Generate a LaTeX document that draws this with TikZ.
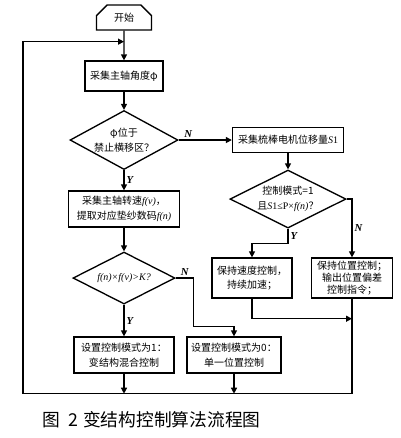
\documentclass[tikz,border=0pt]{standalone}
\usepackage{amsmath}
\usepackage{fontspec}
\setmainfont{Liberation Serif}
\newfontfamily\cjk{Noto Sans CJK SC}
\newcommand{\itv}[1]{{\rmfamily\itshape #1}}
\usepackage{tikz}
\usetikzlibrary{positioning,shapes.geometric,shapes.misc,arrows.meta}

\begin{document}
\begin{tikzpicture}[on grid,line width=1pt,
    >={Triangle[length=4.5pt,width=4.5pt]},
    every node/.style={font=\cjk\fontsize{7.5}{11}\selectfont},
    box/.style={draw,rectangle,align=center,inner sep=1pt},
    test/.style={draw,diamond,align=center,inner sep=0pt,shape aspect=2},
    yn/.style={font=\rmfamily\bfseries\itshape\fontsize{8}{9}\selectfont,inner sep=1.5pt}]
    \useasboundingbox (-93pt,13.125pt) rectangle (207pt,-315.375pt);
    \node[draw,chamfered rectangle,chamfered rectangle xsep=4.5pt,chamfered rectangle ysep=4.5pt,
          chamfered rectangle corners={north west,north east},
          minimum width=41.25pt,minimum height=18.75pt,inner sep=0pt] (start) at (0,0) {开始};
    \node[box,minimum width=58.5pt,minimum height=22.5pt] (b_phi)   [below=43.9pt of start]  {采集主轴角度φ};
    \node[test,minimum width=78pt,minimum height=44.25pt] (t_zone)  [below=48pt of b_phi]    {φ位于\\禁止横移区？};
    \node[box,minimum width=83.25pt,minimum height=18.75pt] (b_s1)  [right=123pt of t_zone]  {采集梳棒电机位移量\itv{S}\rmfamily 1};
    \node[test,minimum width=87pt,minimum height=43.5pt] (t_mode)   [below=44.25pt of b_s1]  {控制模式=1\\且\itv{S}{\rmfamily 1≤P×}\itv{f(n)}？};
    \node[box,minimum width=83.25pt,minimum height=27pt] (b_fv)     [below=51.75pt of t_zone] {采集主轴转速\itv{f(v)}，\\提取对应垫纱数码\itv{f(n)}};
    \node[test,minimum width=76.5pt,minimum height=39pt] (t_k)      [below=51.75pt of b_fv]  {\itv{f(n)×f(v)>K?}};
    \node[box,minimum width=60pt,minimum height=30pt] (b_speed)     [right=96pt of t_k]      {保持速度控制，\\持续加速；};
    \node[box,minimum width=60.75pt,minimum height=30pt,font=\cjk\fontsize{7.5}{9.3}\selectfont]
         (b_pos) [right=75pt of b_speed] {保持位置控制；\\输出位置偏差\\控制指令；};
    \node[box,minimum width=75pt,minimum height=27pt] (b_mode1)     [below=57.75pt of t_k]   {设置控制模式为1：\\变结构混合控制};
    \node[box,minimum width=70.5pt,minimum height=27pt] (b_mode0)   [right=82.5pt of b_mode1] {设置控制模式为0：\\单一位置控制};
    \node[font=\cjk\fontsize{13.3}{15}\selectfont] (caption) at (20.6pt,-301.9pt)
         {图\hspace{0.45em}2\hspace{0.3em}变结构控制算法流程图};

    % return line
    \coordinate (back) at ([yshift=-8.25pt]start.south);
    \coordinate (bl)   at ([xshift=-75.75pt,yshift=-15pt]b_mode1.south);
    \coordinate (y2)   at ([yshift=-11.25pt]t_mode.south);
    \coordinate (m3)   at ([yshift=-15pt]b_speed.south);
    \coordinate (n3)   at ([xshift=13.5pt]t_k.east);
    \coordinate (k0)   at ([yshift=7.5pt]b_mode0.north);

    \draw[->] (start) -- (b_phi);
    \draw[->] (b_phi) -- (t_zone);
    \draw[->] (t_zone) -- node[yn,pos=0.18,above] {N} (b_s1);
    \draw[->] (b_s1) -- (t_mode);
    \draw[->] (t_zone) -- node[yn,right] {Y} (b_fv);
    \draw[->] (b_fv) -- (t_k);
    \draw[->] (t_k) -- node[yn,right] {Y} (b_mode1);
    \draw[->] (t_mode.south) -- node[yn,right] {Y} (y2) -| (b_speed.north);
    \draw[->] (t_mode.east) -- (t_mode.east -| b_pos.north) -- node[yn,right] {N} (b_pos.north);
    \draw[->] (t_k.east) -- node[yn,above] {N} (n3) |- (k0) -- (b_mode0.north);
    \draw[->] (b_speed.south) -- (m3) -- (m3 -| b_pos.south);
    \draw[->] (b_mode1.south) -- (b_mode1.south |- bl);
    \draw[->] (b_mode0.south) -- (b_mode0.south |- bl);
    \draw[->] (b_pos.south) -- (b_pos.south |- bl) -- (bl) -- (bl |- back) -- (back);
\end{tikzpicture}
\end{document}
